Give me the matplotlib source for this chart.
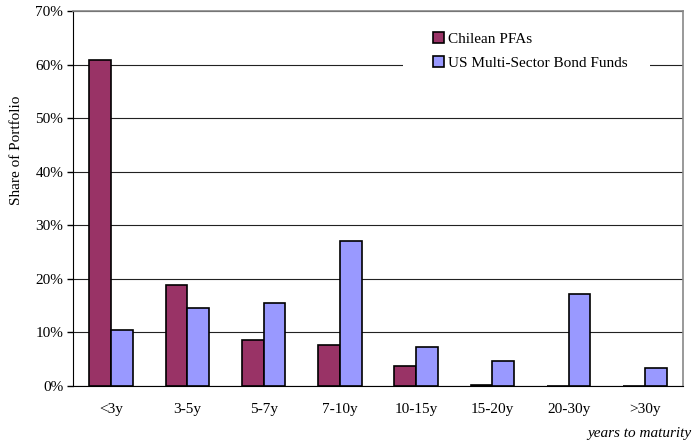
import matplotlib
matplotlib.use("Agg")
import matplotlib.pyplot as plt
from matplotlib.patches import Rectangle
import numpy as np

categories = ["<3y", "3-5y", "5-7y", "7-10y", "10-15y", "15-20y", "20-30y", ">30y"]
chilean = [60.9, 18.9, 8.5, 7.7, 3.8, 0.2, 0.0, 0.0]
us_funds = [10.4, 14.5, 15.5, 27.1, 7.2, 4.7, 17.2, 3.4]
yticks = [0, 10, 20, 30, 40, 50, 60, 70]
ytick_labels = ["0%", "10%", "20%", "30%", "40%", "50%", "60%", "70%"]

plt.rcParams['font.family'] = ['Liberation Serif', 'DejaVu Serif']
FS = 11

fig = plt.figure(figsize=(6.92, 4.43), dpi=100)
ax = fig.add_axes([73/692, 57/443, 610/692, 375/443])

x = np.arange(len(categories))
w = 0.285
ax.bar(x - w/2, chilean, w, color="#993366", edgecolor="black", linewidth=1.2,
       label="Chilean PFAs", zorder=3)
ax.bar(x + w/2, us_funds, w, color="#9999FF", edgecolor="black", linewidth=1.2,
       label="US Multi-Sector Bond Funds", zorder=3)

ax.set_xlim(-0.5, len(categories) - 0.5)
ax.set_ylim(0, 70)
ax.set_yticks(yticks)
ax.set_yticklabels(ytick_labels, fontsize=FS)
ax.set_xticks(x)
ax.set_xticklabels(categories, fontsize=FS)
ax.tick_params(axis='x', length=0, pad=12)
ax.tick_params(axis='y', length=4, direction='out', width=1, pad=3)

ax.yaxis.grid(True, color="#222222", linewidth=0.8, zorder=0)
ax.set_axisbelow(True)

for s in ["top", "right"]:
    ax.spines[s].set_color("#888888")
    ax.spines[s].set_linewidth(1.2)
ax.spines["left"].set_color("black")
ax.spines["bottom"].set_color("black")

# white background box behind the legend
ax.add_patch(Rectangle((403/692, 1 - 82/443), 247/692, 57/443,
                       transform=fig.transFigure, facecolor="white",
                       edgecolor="none", zorder=1, clip_on=False))

leg = ax.legend(loc="upper left", bbox_to_anchor=(433/692, 1 - 32/443),
                bbox_transform=fig.transFigure, frameon=False,
                fontsize=FS, handlelength=0.7, handleheight=0.7, handletextpad=0.3,
                labelspacing=0.7, borderpad=0, borderaxespad=0)
leg.set_zorder(5)

fig.text(17/692, 1 - 150/443, "Share of Portfolio", rotation=90, fontsize=FS,
         ha="center", va="center")
fig.text(691/692, 1 - 433/443, "years to maturity", style="italic", fontsize=FS,
         ha="right", va="center")

fig.savefig("out.png", dpi=100)
